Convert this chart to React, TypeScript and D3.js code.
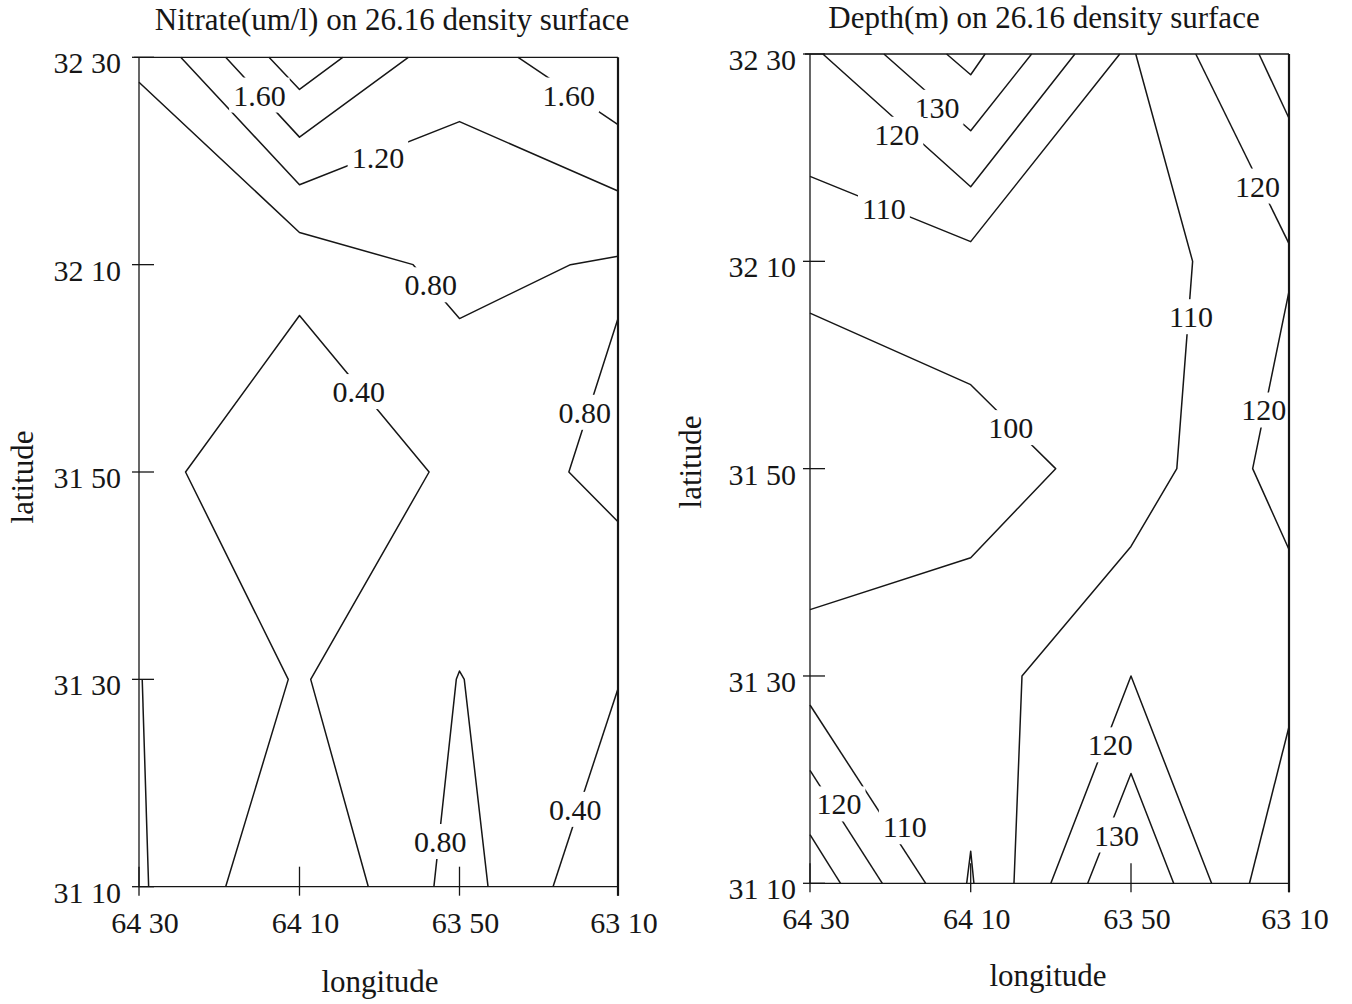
import { useEffect, useRef } from 'react'
import * as d3 from 'd3'

// longitude: station column index, labelled as printed on the original axis
const lonTicks = [0, 1, 2, 3]
const lonLabels = ['64 30', '64 10', '63 50', '63 10']
// latitude: minutes north of 31 00
const latTicks = [10, 30, 50, 70, 90]
const latLabels = ['31 10', '31 30', '31 50', '32 10', '32 30']

type Contour = { value: number; points: [number, number][] }
type Label = { text: string; lon: number; lat: number }

const nitrateContours: Contour[] = [
  { value: 2.0, points: [[0.81, 90], [1, 86.9], [1.27, 90]] },
  { value: 1.6, points: [[0.54, 90], [1, 82.3], [1.68, 90]] },
  { value: 1.6, points: [[2.37, 90], [3, 83.5]] },
  { value: 1.2, points: [[0.26, 90], [1, 77.7], [2, 83.8], [3, 77.1]] },
  { value: 0.8, points: [[0, 87.6], [1, 73.1], [1.71, 70], [2, 64.8], [2.7, 70], [3, 70.8]] },
  { value: 0.8, points: [[3, 64.8], [2.69, 50], [3, 45.2]] },
  { value: 0.4, points: [[0.54, 10], [0.93, 30], [0.29, 50], [1, 65.1], [1.81, 50], [1.07, 30], [1.43, 10]] },
  { value: 0.8, points: [[1.84, 10], [1.98, 30], [2.0, 30.8], [2.03, 30], [2.18, 10]] },
  { value: 0.4, points: [[3, 29.1], [2.59, 10]] },
  { value: 0.4, points: [[0.02, 30], [0.06, 10]] },
]

const nitrateLabels: Label[] = [
  { text: '1.60', lon: 0.75, lat: 86.3 },
  { text: '1.20', lon: 1.49, lat: 80.3 },
  { text: '0.80', lon: 1.82, lat: 68.0 },
  { text: '1.60', lon: 2.69, lat: 86.3 },
  { text: '0.40', lon: 1.37, lat: 57.7 },
  { text: '0.80', lon: 2.79, lat: 55.7 },
  { text: '0.80', lon: 1.88, lat: 14.3 },
  { text: '0.40', lon: 2.73, lat: 17.4 },
]

const depthContours: Contour[] = [
  { value: 140, points: [[0.85, 90], [1, 88.0], [1.09, 90]] },
  { value: 130, points: [[0.46, 90], [1, 82.6], [1.38, 90]] },
  { value: 120, points: [[0.08, 90], [1, 77.2], [1.65, 90]] },
  { value: 110, points: [[0, 78.2], [1, 71.9], [1.93, 90]] },
  { value: 110, points: [[2.03, 90], [2.39, 70], [2.29, 50], [2, 42.5], [1.32, 30], [1.27, 10]] },
  { value: 120, points: [[2.41, 90], [3, 71.7]] },
  { value: 130, points: [[2.81, 90], [3, 83.8]] },
  { value: 120, points: [[3, 67.1], [2.77, 50], [3, 42.2]] },
  { value: 100, points: [[0, 65], [1, 58.1], [1.53, 50], [1, 41.4], [0, 36.4]] },
  { value: 110, points: [[0, 27.2], [0.72, 10]] },
  { value: 120, points: [[0, 20.9], [0.45, 10]] },
  { value: 130, points: [[0, 14.7], [0.19, 10]] },
  { value: 100, points: [[0.975, 10], [1, 13.1], [1.02, 10]] },
  { value: 120, points: [[1.5, 10], [2, 30], [2.51, 10]] },
  { value: 130, points: [[1.73, 10], [2, 20.6], [2.27, 10]] },
  { value: 120, points: [[2.75, 10], [3, 25.1]] },
]

const depthLabels: Label[] = [
  { text: '130', lon: 0.79, lat: 84.8 },
  { text: '120', lon: 0.54, lat: 82.2 },
  { text: '110', lon: 0.46, lat: 75.0 },
  { text: '120', lon: 2.8, lat: 77.2 },
  { text: '110', lon: 2.38, lat: 64.6 },
  { text: '100', lon: 1.25, lat: 53.9 },
  { text: '120', lon: 2.84, lat: 55.6 },
  { text: '120', lon: 0.18, lat: 17.6 },
  { text: '110', lon: 0.59, lat: 15.4 },
  { text: '120', lon: 1.87, lat: 23.3 },
  { text: '130', lon: 1.91, lat: 14.6 },
]

const FONT = '"Liberation Serif", "Times New Roman", serif'
const INK = '#161616'

const panels = [
  {
    title: 'Nitrate(um/l) on 26.16 density surface',
    titleX: 392, titleY: 30,
    xRange: [139, 299.5, 459.5, 618], top: 57.3, bottom: 886.7,
    yLabelX: 121, xLabelY: 933,
    latPos: [33, 477], lonPos: [380, 992],
    contours: nitrateContours, labels: nitrateLabels,
  },
  {
    title: 'Depth(m) on 26.16 density surface',
    titleX: 1044, titleY: 28,
    xRange: [810, 970.7, 1131, 1289], top: 54, bottom: 883.3,
    yLabelX: 796, xLabelY: 929,
    latPos: [701, 462], lonPos: [1048, 986],
    contours: depthContours, labels: depthLabels,
  },
]

function drawPanel(svg: any, p: any) {
  const x = d3.scaleLinear().domain(lonTicks).range(p.xRange)
  const y = d3.scaleLinear().domain([10, 90]).range([p.bottom, p.top])
  const g = svg.append('g')

  const line = d3.line<[number, number]>().x(d => x(d[0])).y(d => y(d[1]))

  // contour lines
  g.selectAll('path.contour')
    .data(p.contours)
    .join('path')
    .attr('class', 'contour')
    .attr('d', (d: Contour) => line(d.points))
    .attr('fill', 'none')
    .attr('stroke', INK)
    .attr('stroke-width', 1.5)
    .attr('stroke-linejoin', 'round')

  // contour labels; a white box behind each one breaks the line
  const labels = g.selectAll('text.clabel')
    .data(p.labels)
    .join('text')
    .attr('class', 'clabel')
    .attr('x', (d: Label) => x(d.lon))
    .attr('y', (d: Label) => y(d.lat))
    .attr('dy', '0.33em')
    .attr('text-anchor', 'middle')
    .attr('font-family', FONT)
    .attr('font-size', 30)
    .attr('fill', INK)
    .text((d: Label) => d.text)

  labels.each(function (this: SVGTextElement) {
    const b = this.getBBox()
    d3.select(this.parentNode as Element)
      .insert('rect', () => this)
      .attr('x', b.x - 4)
      .attr('y', b.y - 1)
      .attr('width', b.width + 8)
      .attr('height', b.height + 2)
      .attr('fill', '#fff')
  })

  // frame
  const x0 = x(0), x3 = x(3), yt = y(90), yb = y(10)
  g.append('path')
    .attr('d', `M${x3},${yt}H${x0 - 5}M${x0},${yt}V${yb}H${x3}`)
    .attr('fill', 'none')
    .attr('stroke', INK)
    .attr('stroke-width', 1.3)
  g.append('line')
    .attr('x1', x3).attr('x2', x3)
    .attr('y1', yt).attr('y2', yb + 9)
    .attr('stroke', INK)
    .attr('stroke-width', 2.2)

  // ticks
  g.selectAll('line.ytick')
    .data(latTicks)
    .join('line')
    .attr('class', 'ytick')
    .attr('x1', x0 - 7).attr('x2', x0 + 15)
    .attr('y1', (d: number) => y(d)).attr('y2', (d: number) => y(d))
    .attr('stroke', INK).attr('stroke-width', 1.3)
  g.selectAll('line.xtick')
    .data(lonTicks)
    .join('line')
    .attr('class', 'xtick')
    .attr('x1', (d: number) => x(d)).attr('x2', (d: number) => x(d))
    .attr('y1', yb - 20).attr('y2', yb + 9)
    .attr('stroke', INK).attr('stroke-width', 1.3)

  // tick labels
  g.selectAll('text.ylab')
    .data(latTicks)
    .join('text')
    .attr('class', 'ylab')
    .attr('x', p.yLabelX)
    .attr('y', (d: number) => y(d) + 16)
    .attr('text-anchor', 'end')
    .attr('font-family', FONT).attr('font-size', 30).attr('fill', INK)
    .text((d: number, i: number) => latLabels[i])
  g.selectAll('text.xlab')
    .data(lonTicks)
    .join('text')
    .attr('class', 'xlab')
    .attr('x', (d: number) => x(d) + 6)
    .attr('y', p.xLabelY)
    .attr('text-anchor', 'middle')
    .attr('font-family', FONT).attr('font-size', 30).attr('fill', INK)
    .text((d: number, i: number) => lonLabels[i])

  // titles
  g.append('text')
    .attr('x', p.titleX).attr('y', p.titleY)
    .attr('text-anchor', 'middle')
    .attr('font-family', FONT).attr('font-size', 31).attr('fill', INK)
    .text(p.title)
  g.append('text')
    .attr('transform', `translate(${p.latPos[0]},${p.latPos[1]}) rotate(-90)`)
    .attr('text-anchor', 'middle')
    .attr('font-family', FONT).attr('font-size', 31).attr('fill', INK)
    .text('latitude')
  g.append('text')
    .attr('x', p.lonPos[0]).attr('y', p.lonPos[1])
    .attr('text-anchor', 'middle')
    .attr('font-family', FONT).attr('font-size', 31).attr('fill', INK)
    .text('longitude')
}

export default function App() {
  const svgRef = useRef<SVGSVGElement>(null)

  useEffect(() => {
    if (!svgRef.current) return
    const svg = d3.select(svgRef.current)
    svg.selectAll('*').remove()
    panels.forEach(p => drawPanel(svg, p))
  }, [])

  return (
    <svg
      ref={svgRef}
      width={1352}
      height={1004}
      style={{ position: 'absolute', left: 0, top: 0, background: '#fff', display: 'block' }}
    />
  )
}
